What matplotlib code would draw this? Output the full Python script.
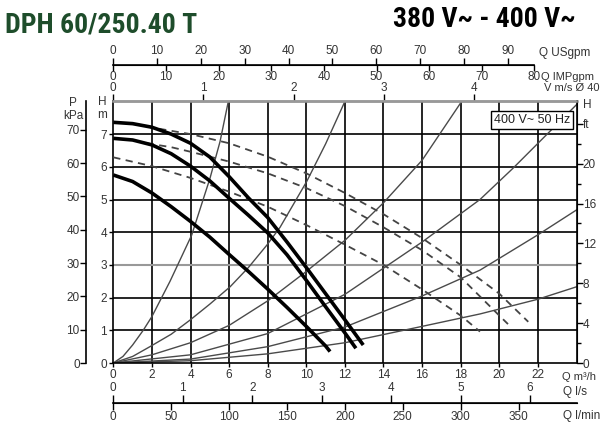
import matplotlib.pyplot as plt
from matplotlib import font_manager

plt.rcParams['font.family'] = ['Liberation Sans', 'DejaVu Sans']

# a condensed face for the headings if one is installed
names = {f.name for f in font_manager.fontManager.ttflist}
narrow = None
for cand in ['Liberation Sans Narrow', 'Roboto Condensed', 'Open Sans Condensed']:
    if cand in names:
        narrow = cand
        break
head_family = narrow if narrow else 'Liberation Sans'
head_size = 20 if narrow else 18

# pump curves, Q m3/h -> H m (thick solid)
q_top = [0, 1, 2, 3, 4, 5, 6, 7, 8, 9, 10, 11, 12, 12.95]
h_top = [7.36, 7.32, 7.21, 7.0, 6.72, 6.3, 5.7, 5.05, 4.45, 3.7, 2.92, 2.12, 1.32, 0.55]
q_mid = [0, 1, 2, 3, 4, 5, 6, 7, 8, 9, 10, 11, 12, 12.57]
h_mid = [6.87, 6.82, 6.67, 6.4, 6.02, 5.57, 5.04, 4.52, 3.98, 3.31, 2.53, 1.72, 0.92, 0.45]
q_low = [0, 1, 2, 3, 4, 5, 6, 7, 8, 9, 10, 11, 11.23]
h_low = [5.75, 5.55, 5.2, 4.78, 4.33, 3.85, 3.32, 2.8, 2.26, 1.7, 1.12, 0.52, 0.35]

# dashed curves
qd_top = [1.73, 3, 4, 6, 8, 10, 12, 14, 16, 18, 20, 21.5]
hd_top = [7.23, 7.1, 7.0, 6.72, 6.31, 5.8, 5.2, 4.55, 3.82, 3.0, 2.12, 1.26]
qd_mid = [1.73, 3, 4, 6, 8, 10, 12, 14, 16, 18, 20, 20.45]
hd_mid = [6.72, 6.6, 6.46, 6.16, 5.8, 5.35, 4.8, 4.15, 3.45, 2.62, 1.45, 1.19]
qd_low = [0, 2, 4, 6, 8, 10, 12, 14, 16, 18, 19]
hd_low = [6.29, 6.02, 5.66, 5.24, 4.78, 4.22, 3.62, 3.0, 2.25, 1.45, 0.96]

# system curves (thin)
qa = [0, 0.5, 1, 1.55, 2, 2.94, 4.06, 5.01, 5.53, 5.96]
ha = [0, 0.2, 0.55, 1.0, 1.42, 2.5, 3.91, 5.65, 6.77, 8.0]
qb = [0, 1, 1.9, 3, 3.97, 5, 6.05, 7, 7.95, 8.64, 10.02, 11, 12.0]
hb = [0, 0.2, 0.5, 0.88, 1.31, 1.8, 2.33, 2.92, 3.6, 4.15, 5.55, 6.7, 8.0]
qc = [0, 2, 4, 6, 8, 10, 12, 14, 16, 18.05]
hc = [0, 0.25, 0.62, 1.15, 1.9, 2.8, 3.75, 4.9, 6.2, 8.0]
qd = [0, 4, 8, 12, 16, 19, 20.7, 22.7, 24]
hd = [0, 0.25, 0.9, 2.1, 3.7, 5.0, 5.95, 7.13, 7.9]
qe = [0, 4, 8, 12, 16, 19, 22, 24]
he = [0, 0.12, 0.5, 1.1, 2.05, 2.84, 3.92, 4.68]
qf = [0, 4, 8, 12, 16, 19, 22, 24]
hf = [0, 0.07, 0.28, 0.62, 1.12, 1.5, 1.95, 2.33]

W, H = 600, 437
fig = plt.figure(figsize=(6, 4.37), dpi=100)
ax = fig.add_axes([113.3 / W, 1 - 363 / H, (576.5 - 113.3) / W, (363 - 101.4) / H])
ax.set_xlim(0, 24)
ax.set_ylim(0, 8)

tc = '#333333'
fs = 8.5
ax.set_xticks(range(0, 24, 2))
ax.set_yticks(range(0, 8))
ax.tick_params(direction='out', length=3, width=1, labelsize=fs, labelcolor=tc, pad=1.5)

for x in range(2, 24, 2):
    ax.axvline(x, color='black', lw=1.2, zorder=1)
for y in range(1, 8):
    ax.axhline(y, color='#999999' if y == 3 else 'black', lw=1.5 if y == 3 else 1.2, zorder=1)
for s in ['left', 'bottom', 'right']:
    ax.spines[s].set_linewidth(1.2)
ax.spines['top'].set_color('#999999')
ax.spines['top'].set_linewidth(1.8)

# system curves
for q, h in [(qa, ha), (qb, hb), (qc, hc), (qd, hd), (qe, he), (qf, hf)]:
    ax.plot(q, h, color='#4a4a4a', lw=1.0, zorder=2)

# dashed curves
for q, h in [(qd_top, hd_top), (qd_mid, hd_mid), (qd_low, hd_low)]:
    ax.plot(q, h, color='#444444', lw=1.3, ls=(0, (4, 3)), zorder=3)

# pump curves
for q, h in [(q_top, h_top), (q_mid, h_mid), (q_low, h_low)]:
    ax.plot(q, h, color='black', lw=2.6, solid_capstyle='butt', zorder=4)

ax.text(21.7, 7.44, '400 V~ 50 Hz', ha='center', va='center', fontsize=9, color='#222222',
        bbox=dict(boxstyle='square,pad=0.25', fc='white', ec='black', lw=1), zorder=6)

# P kPa axis
secP = ax.secondary_yaxis(-0.059, functions=(lambda h: h * 9.81, lambda p: p / 9.81))
secP.set_yticks(range(0, 80, 10))
secP.tick_params(length=4, width=1, labelsize=fs, labelcolor=tc, pad=0.5)
secP.spines['left'].set_linewidth(1.2)

# H ft axis
secF = ax.secondary_yaxis('right', functions=(lambda h: h * 3.2808, lambda f: f / 3.2808))
secF.set_yticks([0, 4, 8, 12, 16, 20, 24], labels=['0', '4', '8', '12', '16', '20', 'ft'])
secF.set_yticks([2, 6, 10, 14, 18, 22], minor=True)
secF.tick_params(which='major', length=4, width=1, labelsize=fs, labelcolor=tc, pad=0.5)
secF.tick_params(which='minor', length=3, width=1)

# l/s and l/min axis
secLs = ax.secondary_xaxis(-0.153, functions=(lambda q: q / 3.6, lambda v: v * 3.6))
secLs.set_alignment('top')
secLs.set_xticks(range(0, 7))
secLs.tick_params(length=6, width=1, labelsize=fs, labelcolor=tc, pad=0.5)
secLm = ax.secondary_xaxis(-0.153, functions=(lambda q: q * 1000 / 60, lambda v: v * 60 / 1000))
secLm.set_xticks(range(0, 400, 50))
secLm.tick_params(length=5, width=1, labelsize=fs, labelcolor=tc, pad=1)
secLm.spines['bottom'].set_linewidth(1.2)

# US gpm and IMP gpm axis
secU = ax.secondary_xaxis(1.139, functions=(lambda q: q * 4.403, lambda g: g / 4.403))
secU.set_xticks(range(0, 100, 10))
secU.tick_params(length=5, width=1, labelsize=fs, labelcolor=tc, pad=0.5)
secU.spines['top'].set_bounds(0, 96)
secU.spines['top'].set_linewidth(1.2)
secI = ax.secondary_xaxis(1.139, functions=(lambda q: q * 3.666, lambda g: g / 3.666))
secI.set_alignment('bottom')
secI.set_xticks(range(0, 90, 10))
secI.tick_params(length=4, width=1, labelsize=fs, labelcolor=tc, pad=0.5)
secI.spines['bottom'].set_bounds(0, 80)

# velocity axis
secV = ax.secondary_xaxis('top', functions=(lambda q: q / 4.67, lambda v: v * 4.67))
secV.set_xticks(range(0, 5))
secV.tick_params(length=5, width=1, labelsize=fs, labelcolor=tc, pad=0.5)
secV.spines['top'].set_color('#999999')
secV.spines['top'].set_linewidth(1.8)


# axis names
def ftext(x, y, s, size=fs, **kw):
    fig.text(x / W, 1 - y / H, s, fontsize=size, color=tc, va='center', **kw)


ftext(73, 103, 'P', ha='center')
ftext(73, 116, 'kPa', ha='center')
ftext(102, 102, 'H', ha='center')
ftext(102, 115, 'm', ha='center')
ftext(583, 105, 'H', ha='left')
ftext(539, 53, 'Q USgpm', ha='left')
ftext(541, 77, 'Q IMPgpm', size=8, ha='left')
ftext(544, 88, 'V m/s Ø 40', size=8, ha='left')
ftext(562, 377, 'Q m³/h', size=8, ha='left')
ftext(563, 392, 'Q l/s', ha='left')
ftext(563, 416, 'Q l/min', ha='left')

fig.text(5 / W, 1 - 32 / H, 'DPH 60/250.40 T', family=head_family, fontweight='bold',
         fontsize=head_size, color='#1e4d2b', va='baseline', ha='left')
fig.text(576 / W, 1 - 27 / H, '380 V~ - 400 V~', family=head_family, fontweight='bold',
         fontsize=head_size, color='black', va='baseline', ha='right')

fig.savefig('out.png', dpi=100)
